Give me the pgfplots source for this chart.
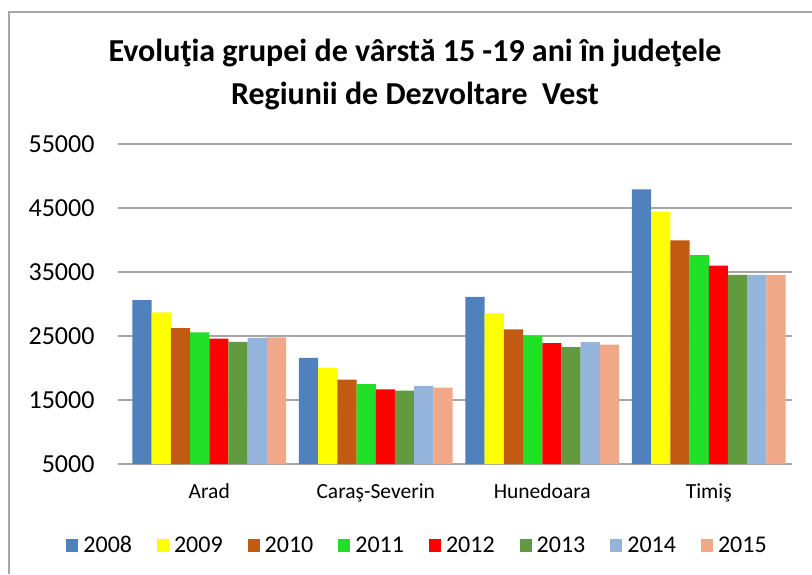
\documentclass[border=0pt]{standalone}
\usepackage{fontspec}
\setmainfont{Carlito}
\usepackage{pgfplots}
\pgfplotsset{compat=1.18}
\definecolor{c08}{HTML}{4F81BD}
\definecolor{c09}{HTML}{FFFF00}
\definecolor{c10}{HTML}{C25A11}
\definecolor{c11}{HTML}{1FDF26}
\definecolor{c12}{HTML}{FF0000}
\definecolor{c13}{HTML}{629A3F}
\definecolor{c14}{HTML}{95B4DC}
\definecolor{c15}{HTML}{F0A889}
\definecolor{gridgray}{HTML}{A6A6A6}
\pgfplotsset{sq/.style={legend image code/.code={\fill[##1] (0pt,-7pt) rectangle (12pt,6pt);}}}

\begin{document}
\begin{tikzpicture}[x=1pt,y=1pt]
\useasboundingbox (0,0) rectangle (812,574);
\fill[white] (0,0) rectangle (812,574);
\draw[gridgray, line width=1.5pt] (9,0) -- (9,562) -- (812,562);
\node[font=\fontsize{32}{43}\selectfont\bfseries, align=center] at (415,500)
  {Evoluţia grupei de vârstă 15 -19 ani în judeţele\\Regiunii de Dezvoltare\ \ Vest};
\begin{axis}[
  at={(126pt,110pt)}, anchor=south west,
  scale only axis, width=666pt, height=320pt,
  ybar=0pt, bar width=19.2pt,
  xmin=-0.5, xmax=3.5, ymin=5000, ymax=55000,
  xtick={0,1,2,3},
  xticklabels={Arad,Caraş-Severin,Hunedoara,Timiş},
  ytick={5000,15000,25000,35000,45000,55000},
  axis x line*=bottom, axis y line*=left,
  y axis line style={draw=none},
  x axis line style={gridgray, line width=1.5pt},
  ymajorgrids, grid style={gridgray, line width=1.3pt},
  tick align=outside, major tick length=8pt,
  ytick style={gridgray, line width=1.3pt},
  xtick style={draw=none},
  scaled y ticks=false,
  /pgf/number format/1000 sep={},
  /pgf/number format/assume math mode=true,
  yticklabel style={font=\fontsize{26}{26}\selectfont, xshift=-20pt},
  xticklabel style={font=\fontsize{21.5}{21.5}\selectfont, yshift=-8pt},
  legend columns=8,
  legend style={draw=none, at={(0.44,-0.253)}, anchor=center,
    font=\fontsize{24}{24}\selectfont, nodes={inner xsep=5pt},
    /tikz/every even column/.append style={column sep=20pt}},
]
\addplot[fill=c08, draw=none, sq] coordinates {(0,30600) (1,21600) (2,31100) (3,47900)};
\addplot[fill=c09, draw=none, sq] coordinates {(0,28700) (1,20000) (2,28550) (3,44450)};
\addplot[fill=c10, draw=none, sq] coordinates {(0,26250) (1,18200) (2,26050) (3,39950)};
\addplot[fill=c11, draw=none, sq] coordinates {(0,25550) (1,17500) (2,25050) (3,37650)};
\addplot[fill=c12, draw=none, sq] coordinates {(0,24600) (1,16650) (2,23900) (3,36000)};
\addplot[fill=c13, draw=none, sq] coordinates {(0,24100) (1,16450) (2,23250) (3,34550)};
\addplot[fill=c14, draw=none, sq] coordinates {(0,24700) (1,17200) (2,24050) (3,34550)};
\addplot[fill=c15, draw=none, sq] coordinates {(0,24800) (1,16950) (2,23650) (3,34550)};
\legend{2008,2009,2010,2011,2012,2013,2014,2015}
\end{axis}
\end{tikzpicture}
\end{document}
